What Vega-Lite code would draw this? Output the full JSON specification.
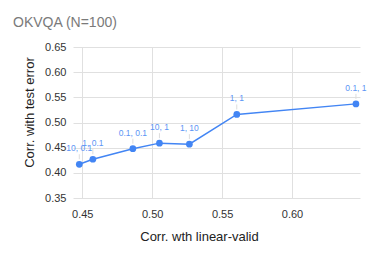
{
  "$schema": "https://vega.github.io/schema/vega-lite/v6.json",
  "width": 287,
  "height": 151,
  "autosize": "none",
  "padding": {"left": 73, "top": 47, "right": 14, "bottom": 68},
  "background": "white",
  "title": {
    "text": "OKVQA (N=100)",
    "anchor": "start",
    "frame": "group",
    "dx": -60,
    "offset": 11,
    "font": "Liberation Sans",
    "fontSize": 14,
    "fontWeight": "normal",
    "color": "#7a7a7a"
  },
  "config": {
    "view": {"stroke": null},
    "axis": {
      "labelFont": "Liberation Sans",
      "titleFont": "Liberation Sans",
      "labelFontSize": 11,
      "titleFontSize": 13,
      "titleFontWeight": "normal",
      "labelColor": "#333333",
      "titleColor": "#222222",
      "gridColor": "#e0e0e0",
      "gridWidth": 1,
      "domain": false,
      "ticks": false
    }
  },
  "data": {
    "values": [
      {"x": 0.4479, "y": 0.417, "label": "10, 0.1"},
      {"x": 0.4576, "y": 0.427, "label": "1, 0.1"},
      {"x": 0.4862, "y": 0.448, "label": "0.1, 0.1"},
      {"x": 0.5052, "y": 0.459, "label": "10, 1"},
      {"x": 0.5266, "y": 0.457, "label": "1, 10"},
      {"x": 0.5605, "y": 0.516, "label": "1, 1"},
      {"x": 0.6457, "y": 0.537, "label": "0.1, 1"}
    ]
  },
  "encoding": {
    "x": {
      "field": "x",
      "type": "quantitative",
      "scale": {"domain": [0.4434, 0.6486], "nice": false, "zero": false},
      "axis": {
        "title": "Corr. wth linear-valid",
        "values": [0.45, 0.5, 0.55, 0.6],
        "format": ".2f",
        "labelPadding": 10,
        "titlePadding": 11,
        "titleX": 126
      }
    },
    "y": {
      "field": "y",
      "type": "quantitative",
      "scale": {"domain": [0.35, 0.65], "nice": false, "zero": false},
      "axis": {
        "title": "Corr. with test error",
        "values": [0.35, 0.4, 0.45, 0.5, 0.55, 0.6, 0.65],
        "format": ".2f",
        "labelPadding": 7,
        "titlePadding": 8,
        "titleY": 65
      }
    }
  },
  "layer": [
    {
      "mark": {"type": "rule", "color": "#dddddd", "strokeWidth": 1, "yOffset": -5, "y2Offset": -10},
      "encoding": {"y2": {"field": "y"}}
    },
    {
      "mark": {"type": "line", "color": "#4285f4", "strokeWidth": 1.5},
      "encoding": {}
    },
    {
      "mark": {"type": "point", "filled": true, "color": "#4285f4", "opacity": 1, "size": 45},
      "encoding": {}
    },
    {
      "mark": {"type": "text", "color": "#5c95f5", "font": "Liberation Sans", "fontSize": 8.5, "dy": -16, "baseline": "middle"},
      "encoding": {"text": {"field": "label"}}
    }
  ]
}
